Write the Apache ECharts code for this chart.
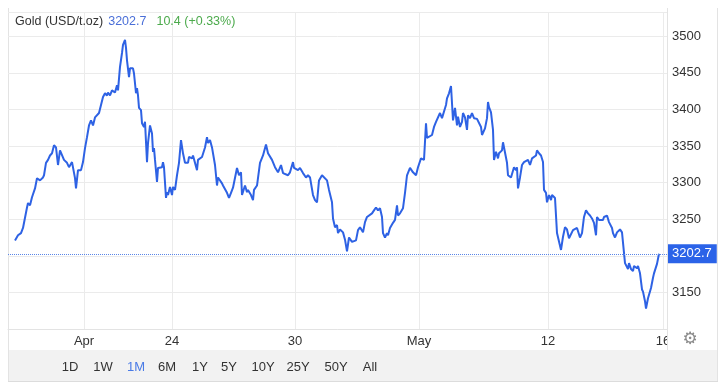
<!DOCTYPE html>
<html><head><meta charset="utf-8">
<script src="https://cdn.jsdelivr.net/npm/echarts@6/dist/echarts.min.js"></script>
<style>html,body{margin:0;padding:0;background:#fff}#c{width:728px;height:391px}</style>
</head><body><div id="c"></div>
<script>
// [time in ~45-minute trading bars from the first point, price USD/t.oz]
const goldPoints = [[0,3221],[3,3228],[6,3231],[8,3238],[12,3266],[13,3272],[15,3269],[17,3280],[20,3292],[22,3306],[25,3303],[28,3307],[29,3310],[31,3327],[33,3331],[35,3337],[37,3340],[39,3351],[41,3348],[43,3324],[45,3344],[47,3342],[49,3331],[52,3327],[54,3321],[57,3328],[58,3327],[60,3306],[61,3292],[63,3317],[66,3317],[68,3328],[70,3347],[72,3362],[74,3378],[76,3385],[78,3378],[80,3389],[82,3388],[84,3395],[86,3396],[88,3417],[90,3422],[92,3419],[93,3423],[95,3419],[97,3426],[100,3423],[102,3433],[103,3426],[105,3458],[107,3477],[108,3488],[110,3495],[111,3484],[112,3467],[114,3444],[115,3456],[118,3456],[119,3449],[121,3422],[122,3429],[123,3419],[124,3402],[126,3399],[127,3381],[129,3376],[130,3383],[132,3328],[133,3354],[135,3378],[137,3367],[138,3342],[139,3347],[140,3331],[142,3301],[143,3320],[145,3321],[147,3321],[148,3328],[149,3321],[151,3279],[152,3287],[153,3283],[155,3294],[157,3283],[158,3294],[160,3290],[162,3310],[164,3327],[166,3358],[168,3340],[170,3327],[173,3327],[174,3335],[177,3333],[178,3337],[180,3335],[182,3317],[183,3331],[187,3335],[188,3337],[190,3348],[192,3362],[193,3354],[195,3358],[197,3348],[198,3348],[200,3324],[202,3296],[203,3307],[205,3306],[207,3299],[208,3296],[210,3296],[212,3286],[214,3279],[216,3286],[218,3293],[220,3295],[222,3320],[224,3310],[226,3314],[227,3283],[230,3296],[232,3287],[233,3290],[236,3283],[238,3276],[239,3290],[242,3296],[243,3296],[245,3327],[247,3328],[248,3337],[251,3352],[253,3340],[257,3331],[260,3321],[263,3314],[266,3324],[268,3313],[270,3313],[273,3310],[275,3314],[278,3328],[279,3320],[281,3321],[283,3317],[285,3320],[288,3313],[291,3307],[293,3310],[295,3307],[297,3306],[298,3283],[300,3276],[302,3273],[304,3303],[307,3310],[309,3310],[312,3303],[314,3290],[317,3273],[318,3251],[320,3239],[322,3242],[323,3231],[325,3236],[328,3232],[330,3222],[332,3206],[334,3225],[337,3219],[339,3217],[341,3221],[343,3235],[345,3239],[348,3232],[350,3246],[352,3253],[354,3253],[357,3258],[359,3262],[361,3266],[363,3262],[365,3265],[367,3253],[368,3231],[370,3225],[372,3231],[373,3228],[375,3238],[378,3245],[380,3249],[382,3269],[383,3255],[385,3258],[388,3265],[390,3286],[392,3310],[395,3320],[398,3314],[401,3310],[403,3321],[406,3333],[408,3335],[409,3331],[411,3381],[412,3361],[414,3362],[417,3365],[419,3376],[421,3383],[423,3385],[425,3395],[427,3388],[428,3389],[431,3406],[432,3415],[434,3422],[436,3432],[438,3385],[440,3402],[442,3378],[443,3390],[445,3376],[447,3383],[448,3395],[450,3389],[452,3372],[453,3392],[455,3388],[457,3395],[459,3388],[462,3387],[464,3385],[466,3376],[467,3365],[470,3374],[472,3388],[473,3410],[474,3403],[476,3396],[478,3372],[479,3331],[481,3342],[483,3333],[484,3340],[487,3344],[488,3355],[490,3355],[492,3327],[493,3310],[496,3307],[498,3306],[499,3321],[501,3317],[502,3321],[503,3292],[505,3307],[507,3324],[509,3328],[511,3327],[513,3331],[515,3324],[517,3333],[519,3331],[521,3337],[522,3344],[524,3340],[526,3337],[528,3328],[529,3290],[531,3286],[532,3273],[534,3283],[536,3276],[537,3283],[540,3279],[542,3231],[543,3232],[546,3208],[548,3226],[550,3239],[552,3236],[554,3224],[556,3225],[558,3235],[560,3235],[562,3238],[563,3239],[565,3225],[567,3231],[569,3253],[571,3262],[573,3258],[575,3255],[577,3251],[579,3245],[581,3228],[582,3253],[584,3249],[586,3251],[588,3249],[589,3253],[592,3255],[594,3246],[597,3238],[598,3231],[600,3225],[602,3232],[603,3231],[605,3236],[607,3232],[608,3232],[610,3190],[612,3189],[613,3182],[614,3190],[616,3182],[618,3179],[619,3186],[622,3183],[623,3186],[625,3176],[627,3154],[628,3151],[630,3138],[631,3128],[633,3142],[634,3141],[636,3156],[638,3170],[639,3176],[642,3189],[644,3202.7]];
const tickBars = [69,157,280,404,533,648];
const tickNames = ['Apr','24','30','May','12','16'];
const yTicks = [3150,3200,3250,3300,3350,3400,3450,3500];
const lastPrice = 3202.7;
const change = '10.4 (+0.33%)';
const ranges = ['1D','1W','1M','6M','1Y','5Y','10Y','25Y','50Y','All'];
const activeRange = '1M';

const FONT = '"Liberation Sans", Arial, sans-serif';
const chart = echarts.init(document.getElementById('c'));
const rangeX = [70,103,136,167,200,229,263,298,336,370];

const graphics = [
  {type:'rect', z:-10, shape:{x:8,y:350,width:710,height:31}, style:{fill:'#f2f2f2'}},
  {type:'line', z:-10, shape:{x1:8,y1:381.5,x2:718,y2:381.5}, style:{stroke:'#dcdcdc',lineWidth:1}},
  {type:'line', z:-10, shape:{x1:8.5,y1:8,x2:8.5,y2:381}, style:{stroke:'#e3e3e3',lineWidth:1}},
  {type:'line', z:-10, shape:{x1:717.5,y1:8,x2:717.5,y2:381}, style:{stroke:'#e3e3e3',lineWidth:1}},
  {type:'rect', z:50, shape:{x:667,y:331,width:50,height:18}, style:{fill:'#fff'}},
  {type:'line', z:51, shape:{x1:667.5,y1:8,x2:667.5,y2:350}, style:{stroke:'#e3e3e3',lineWidth:1}},
  {type:'text', z:60, x:690, y:340, style:{text:'\u2699', fill:'#8a8a8a', fontSize:17, fontFamily:'DejaVu Sans', align:'center', verticalAlign:'middle'}}
];
ranges.forEach((r,i)=>{
  graphics.push({type:'text', z:60, x:rangeX[i], y:367, style:{text:r, fill: r===activeRange?'#4a7be6':'#333', fontSize:13, fontFamily:FONT, align:'center', verticalAlign:'middle'}});
});

chart.setOption({
  animation:false,
  title:{
    left:10, top:8,
    text:'{a|Gold (USD/t.oz)} {b|' + lastPrice + '}  {c|' + change + '}',
    textStyle:{fontWeight:'normal', rich:{
      a:{color:'#333', fontSize:12.5, fontFamily:FONT, fontWeight:'normal'},
      b:{color:'#4a6fd8', fontSize:12.5, fontFamily:FONT, fontWeight:'normal'},
      c:{color:'#4caa4c', fontSize:12.5, fontFamily:FONT, fontWeight:'normal'}
    }}
  },
  grid:{left:8, right:61, top:12, bottom:62, containLabel:false},
  xAxis:{
    type:'value', min:-7, max:652,
    axisLine:{show:true, lineStyle:{color:'#e3e3e3'}},
    axisTick:{show:false, customValues:tickBars},
    axisLabel:{customValues:tickBars, color:'#333', fontSize:13, fontFamily:FONT, margin:6,
      formatter:(v)=>{const i=tickBars.indexOf(v); return i>=0?tickNames[i]:'';}},
    splitLine:{show:true, lineStyle:{color:'#ebebeb'}}
  },
  yAxis:{
    type:'value', position:'right', min:3100, max:3533, interval:50,
    axisLine:{show:false}, axisTick:{show:false},
    axisLabel:{color:'#333', fontSize:13, fontFamily:FONT, margin:5, showMinLabel:false, showMaxLabel:false,
      formatter:(v)=> yTicks.indexOf(v)>=0 ? String(v) : ''},
    splitLine:{show:true, lineStyle:{color:'#ebebeb'}}
  },
  series:[{
    type:'line', data: goldPoints, showSymbol:false,
    lineStyle:{color:'#2e62e4', width:2}, itemStyle:{color:'#2e62e4'},
    markLine:{
      silent:true, symbol:'none',
      lineStyle:{type:'dotted', color:'#5a86e8', width:1},
      label:{position:'end', distance:0, formatter:()=>String(lastPrice), color:'#fff', backgroundColor:'#2b63e8',
        padding:[3,5,3,5], fontSize:13, fontFamily:FONT},
      data:[{yAxis:lastPrice}]
    }
  }],
  graphic: graphics
});
</script></body></html>
